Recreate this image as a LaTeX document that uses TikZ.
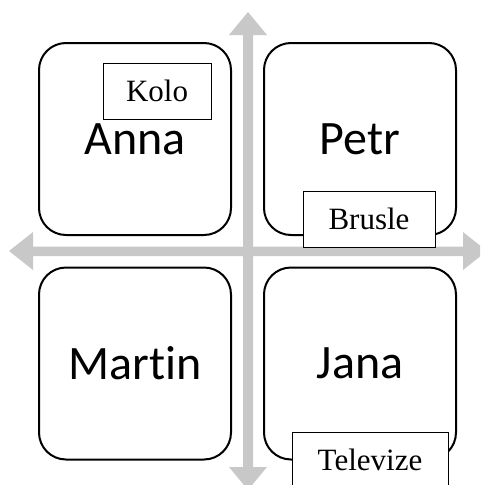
\documentclass[tikz,border=0pt]{standalone}
\usepackage{fontspec}
\setmainfont{Liberation Serif}
\newfontfamily\namefont[Ligatures={NoCommon,NoRequired}]{Carlito}
\definecolor{axisgray}{RGB}{200,200,200}
\begin{document}
\begin{tikzpicture}[x=1pt,y=-1pt,
  person/.style={draw,line width=2pt,rounded corners=27pt,
    minimum width=192pt,minimum height=192pt,inner sep=0pt,
    font=\namefont\fontsize{48}{48}\selectfont},
  tag/.style={draw,fill=white,line width=0.9pt,minimum width=#1,
    minimum height=56pt,inner sep=0pt,font=\fontsize{31}{31}\selectfont},
  axis/.style={fill=axisgray,draw=none}]
\useasboundingbox (0,0) rectangle (480,485);
\clip (0,0) rectangle (480,485);

% vertical double arrow
\fill[axis] (248,12) -- (267,35) -- (253,35) -- (253,467) -- (267,467)
  -- (248,490) -- (229,467) -- (243,467) -- (243,35) -- (229,35) -- cycle;
% horizontal double arrow
\fill[axis] (9,251) -- (33,232) -- (33,246.5) -- (463,246.5) -- (463,232)
  -- (487,251) -- (463,270) -- (463,256) -- (33,256) -- (33,270) -- cycle;

% the four quadrants
\node[person] (anna)   at (135,139)   {Anna};
\node[person] (petr)   at (360,139)   {Petr};
\node[person] (martin) at (135,363.5) {Martin};
\node[person] (jana)   at (360,363.5) {Jana};

% labels attached to the quadrants
\node[tag=108pt] (kolo)     at (157,91)  {Kolo};
\node[tag=132pt] (brusle)   at (369,219) {Brusle};
\node[tag=156pt] (televize) at (370,460) {Televize};
\end{tikzpicture}
\end{document}
